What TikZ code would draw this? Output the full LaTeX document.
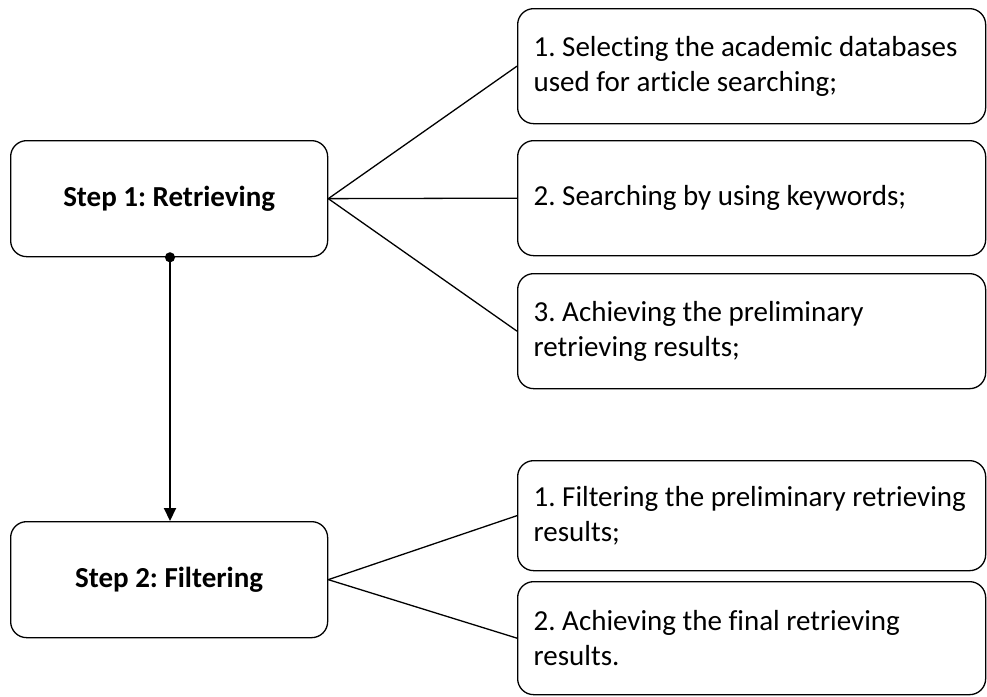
\documentclass[tikz,border=0pt]{standalone}
\usepackage{fontspec}
\setmainfont{Carlito}[Ligatures=NoCommon]
\usetikzlibrary{arrows.meta}

\begin{document}
\frenchspacing
\begin{tikzpicture}[x=1pt, y=-1pt,
  stepbox/.style={draw, line width=1.3pt, rounded corners=16pt,
    minimum width=317pt, minimum height=116pt, anchor=north west,
    font=\fontsize{29}{34}\selectfont\bfseries, inner sep=0pt},
  itembox/.style={draw, line width=1.3pt, rounded corners=16pt,
    minimum width=468pt, minimum height=115pt, anchor=north west,
    text width=436pt, inner xsep=16pt, align=left,
    font=\fontsize{29}{35}\selectfont,
    execute at begin node={\spaceskip=\fontdimen2\font\relax}},
  link/.style={line width=1.3pt}]
\useasboundingbox (0,0) rectangle (987,696);

% step boxes
\node[stepbox] (s1) at (10,140) {Step 1: Retrieving};
\node[stepbox] (s2) at (10,521) {Step 2: Filtering};

% sub-task boxes
\node[itembox] (a1) at (517,8) {\mbox{1. Selecting the academic databases}\\used for article searching;};
\node[itembox] (a2) at (517,140) {2. Searching by using keywords;};
\node[itembox] (a3) at (517,273) {3. Achieving the preliminary\\retrieving results;};
\node[itembox, minimum height=110pt] (b1) at (517,460) {\mbox{1. Filtering the preliminary retrieving}\\results;};
\node[itembox, minimum height=113pt] (b2) at (517,581) {2. Achieving the final retrieving\\results.};

% connectors
\draw[link] (s1.east) -- (a1.west);
\draw[link] (s1.east) -- (a2.west);
\draw[link] (s1.east) -- (a3.west);
\draw[link] (s2.east) -- (b1.west);
\draw[link] (s2.east) -- (b2.west);

% flow from step 1 to step 2
\draw[line width=2pt, {Circle[length=10pt]}-{Triangle[length=13pt,width=12pt]}, shorten <=-5pt]
  (s1.south -| 170,0) -- (s2.north -| 170,0);
\end{tikzpicture}
\end{document}
